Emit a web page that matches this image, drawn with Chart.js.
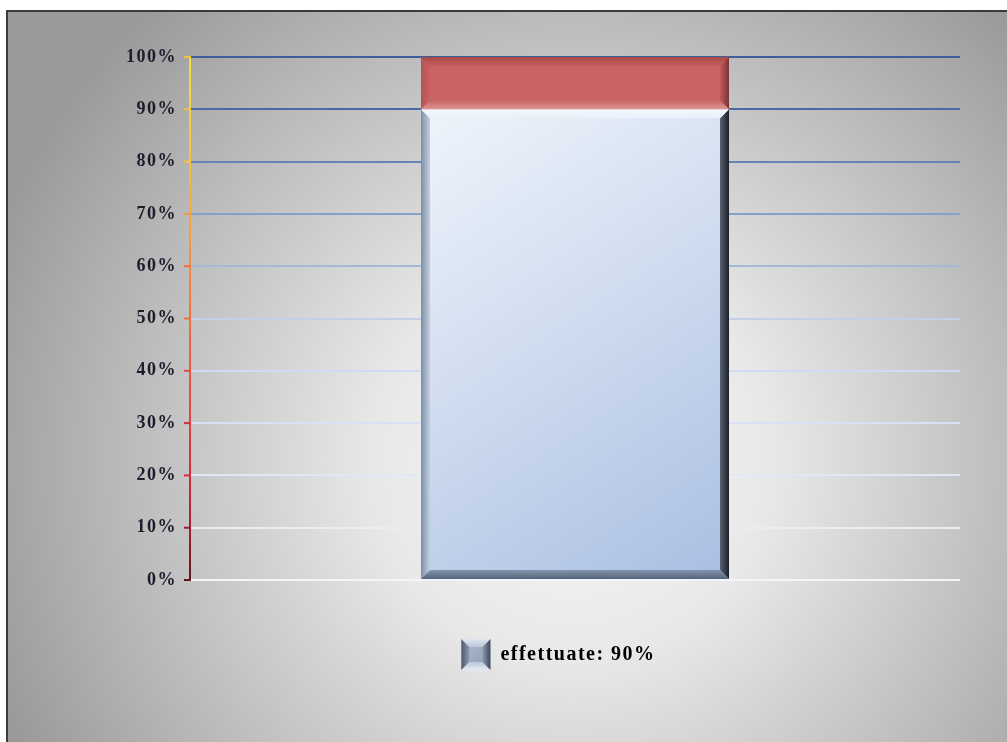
<!DOCTYPE html>
<html>
<head>
<meta charset="utf-8">
<script src="https://cdn.jsdelivr.net/npm/chart.js@4/dist/chart.umd.min.js"></script>
<style>
  html, body { margin: 0; padding: 0; background: #fff; overflow: hidden; }
  #frame {
    position: absolute; left: 6px; top: 10px;
    width: 1101px; height: 740px;
    border-left: 2px solid #3a3a3a; border-top: 2px solid #3a3a3a;
  }
  #frame canvas { position: absolute; left: 0; top: 0; }
</style>
</head>
<body>
<div id="frame"><canvas id="chart_canvas" width="1101" height="730"></canvas></div>
<script>
var categories = [''];
var doneValues = [90];
var missingValues = [10];
var doneLabel = 'effettuate';
var missingLabel = 'non effettuate';
var tickValues = [0, 10, 20, 30, 40, 50, 60, 70, 80, 90, 100];

var fontFamily = '"Liberation Serif", "Times New Roman", serif';

// gridline colour per tick, dark blue at the top fading to white at the bottom
var gridColors = {
	100: '#3d5e98', 90: '#4a6aa2', 80: '#6682b6', 70: '#88a0c8', 60: '#a4b8da',
	50: '#c2d0e8', 40: '#cfdbf0', 30: '#d8e2f4', 20: '#e0e8f6', 10: '#e8eef8', 0: '#f2f5fb'
};
// left axis runs yellow -> orange -> red -> dark red
var axisStops = [
	[0, '#f4e23c'], [0.2, '#f6c040'], [0.35, '#f59a42'], [0.5, '#f2703e'],
	[0.65, '#ea4a44'], [0.8, '#d42c3a'], [0.92, '#9a1e2c'], [1, '#5e1420']
];

function axisColorAt(t) {
	for (var i = 1; i < axisStops.length; i++) {
		if (t <= axisStops[i][0]) return axisStops[i][1];
	}
	return axisStops[axisStops.length - 1][1];
}

var backdropPlugin = {
	id: 'backdrop',
	beforeUpdate: function (chart) { chart.ctx.letterSpacing = '1.5px'; },
	beforeDraw: function (chart) {
		var ctx = chart.ctx;
		ctx.letterSpacing = '1.5px';
		// grey backdrop with a light glow in the middle
		var g = ctx.createRadialGradient(565, 450, 20, 565, 450, 620);
		g.addColorStop(0, '#f6f6f6');
		g.addColorStop(0.3, '#e8e8e8');
		g.addColorStop(0.7, '#bcbcbc');
		g.addColorStop(1, '#9a9a9a');
		ctx.save();
		ctx.fillStyle = g;
		ctx.fillRect(0, 0, chart.width, chart.height);
		ctx.restore();
	}
};

function quad(ctx, pts, fill) {
	ctx.beginPath();
	ctx.moveTo(pts[0], pts[1]);
	for (var i = 2; i < pts.length; i += 2) ctx.lineTo(pts[i], pts[i + 1]);
	ctx.closePath();
	ctx.fillStyle = fill;
	ctx.fill();
}

// raised bevel round a rectangle
function bevel(ctx, x0, y0, x1, y1, b, c) {
	var lg = ctx.createLinearGradient(x0, 0, x0 + b, 0);
	lg.addColorStop(0, c.left[0]); lg.addColorStop(1, c.left[1]);
	quad(ctx, [x0, y0, x0 + b, y0 + b, x0 + b, y1 - b, x0, y1], lg);
	var rg = ctx.createLinearGradient(x1 - b, 0, x1, 0);
	rg.addColorStop(0, c.right[0]); rg.addColorStop(1, c.right[1]);
	quad(ctx, [x1, y0, x1 - b, y0 + b, x1 - b, y1 - b, x1, y1], rg);
	var tg = ctx.createLinearGradient(0, y0, 0, y0 + b);
	tg.addColorStop(0, c.top[0]); tg.addColorStop(1, c.top[1]);
	quad(ctx, [x0, y0, x1, y0, x1 - b, y0 + b, x0 + b, y0 + b], tg);
	var bg = ctx.createLinearGradient(0, y1 - b, 0, y1);
	bg.addColorStop(0, c.bottom[0]); bg.addColorStop(1, c.bottom[1]);
	quad(ctx, [x0, y1, x1, y1, x1 - b, y1 - b, x0 + b, y1 - b], bg);
}

var blueBevel = {
	left: ['#7e8ea6', '#c4d0e0'], right: ['#5a6272', '#1c2028'],
	top: ['#f4f8fc', '#e8f0f9'], bottom: ['#8494ac', '#56647a']
};
var redBevel = {
	left: ['#b45454', '#c96262'], right: ['#c05a5a', '#7a3434'],
	top: ['#a84848', '#c45e5e'], bottom: ['#c86664', '#dc9694']
};
var iconBevel = {
	left: ['#4e5a6c', '#8e9cb2'], right: ['#8e9cb2', '#3e4858'],
	top: ['#dfe6f0', '#b9c6d8'], bottom: ['#b9c6d8', '#e4eaf2']
};

var barPlugin = {
	id: 'barBevel',
	afterDatasetsDraw: function (chart) {
		var ctx = chart.ctx;
		ctx.save();
		chart.data.datasets.forEach(function (ds, di) {
			chart.getDatasetMeta(di).data.forEach(function (bar) {
				var p = bar.getProps(['x', 'y', 'base', 'width'], true);
				var x0 = p.x - p.width / 2, x1 = p.x + p.width / 2;
				var y0 = Math.min(p.y, p.base), y1 = Math.max(p.y, p.base);
				bevel(ctx, x0, y0, x1, y1, 9, di === 0 ? blueBevel : redBevel);
			});
		});
		ctx.restore();
	},
	afterDraw: function (chart) {
		var ctx = chart.ctx, y = chart.scales.y;
		ctx.save();
		// gradient axis line and its tick marks
		var ag = ctx.createLinearGradient(0, y.top, 0, y.bottom);
		axisStops.forEach(function (s) { ag.addColorStop(s[0], s[1]); });
		ctx.fillStyle = ag;
		ctx.fillRect(y.right - 1, y.top - 1, 2, y.bottom - y.top + 2);
		tickValues.forEach(function (v) {
			var py = y.getPixelForValue(v);
			ctx.fillStyle = axisColorAt((py - y.top) / (y.bottom - y.top));
			ctx.fillRect(y.right - 6, py - 1, 6, 2);
		});
		// legend swatch
		var box = chart.legend.legendHitBoxes[0];
		if (box) {
			var bw = 29, bh = 31;
			var g = ctx.createLinearGradient(box.left, box.top, box.left + bw, box.top + bh);
			g.addColorStop(0, '#b4c0d2'); g.addColorStop(1, '#8c9ab0');
			ctx.fillStyle = g;
			ctx.fillRect(box.left, box.top, bw, bh);
			bevel(ctx, box.left, box.top, box.left + bw, box.top + bh, 8, iconBevel);
		}
		ctx.restore();
	}
};

var ctx = document.getElementById('chart_canvas').getContext('2d');

function blueFill(context) {
	var area = context.chart.chartArea;
	if (!area) return '#cfdcf0';
	var g = context.chart.ctx.createLinearGradient(area.left + 230, area.top + 60, area.left + 540, area.bottom);
	g.addColorStop(0, '#eef4fb');
	g.addColorStop(0.5, '#cddaee');
	g.addColorStop(1, '#a8bee2');
	return g;
}

var chart = new Chart(ctx, {
	type: 'bar',
	data: {
		labels: categories,
		datasets: [
			{
				label: doneLabel,
				data: doneValues,
				backgroundColor: blueFill,
				borderWidth: 0,
				categoryPercentage: 0.4,
				barPercentage: 1
			},
			{
				label: missingLabel,
				data: missingValues,
				backgroundColor: '#c96261',
				borderWidth: 0,
				categoryPercentage: 0.4,
				barPercentage: 1
			}
		]
	},
	options: {
		responsive: false,
		animation: false,
		events: [],
		layout: { padding: { left: 0, right: 0, top: 45, bottom: 62 } },
		scales: {
			x: {
				stacked: true,
				grid: { display: false },
				border: { display: false },
				ticks: { display: false },
				afterFit: function (s) { s.height = 49; }
			},
			y: {
				stacked: true,
				min: tickValues[0],
				max: tickValues[tickValues.length - 1],
				afterFit: function (s) { s.width = 182; },
				border: { display: false },
				grid: {
					lineWidth: 2,
					tickLength: 6,
					tickColor: 'rgba(0,0,0,0)',
					color: function (c) { return gridColors[c.tick.value] || '#ccc'; }
				},
				ticks: {
					stepSize: 10,
					padding: 7,
					color: '#1c1c2c',
					font: { family: fontFamily, size: 18, weight: 'bold' },
					callback: function (v) { return String(v) + '%'; }
				}
			},
			// empty strip on the right, keeps the legend off-centre like the plot frame
			side: {
				position: 'right',
				grid: { display: false },
				border: { display: false },
				ticks: { display: false },
				afterFit: function (s) { s.width = 149; }
			}
		},
		plugins: {
			tooltip: { enabled: false },
			legend: {
				position: 'bottom',
				labels: {
					boxWidth: 29,
					boxHeight: 31,
					color: '#1c1c2c',
					font: { family: fontFamily, size: 20, weight: 'bold' },
					generateLabels: function (c) {
						return [{
							text: doneLabel + ': ' + doneValues[0] + '%',
							fillStyle: 'rgba(0,0,0,0)',
							strokeStyle: 'rgba(0,0,0,0)',
							lineWidth: 0,
							datasetIndex: 0,
							hidden: false
						}];
					}
				}
			}
		}
	},
	plugins: [backdropPlugin, barPlugin]
});
</script>
</body>
</html>
